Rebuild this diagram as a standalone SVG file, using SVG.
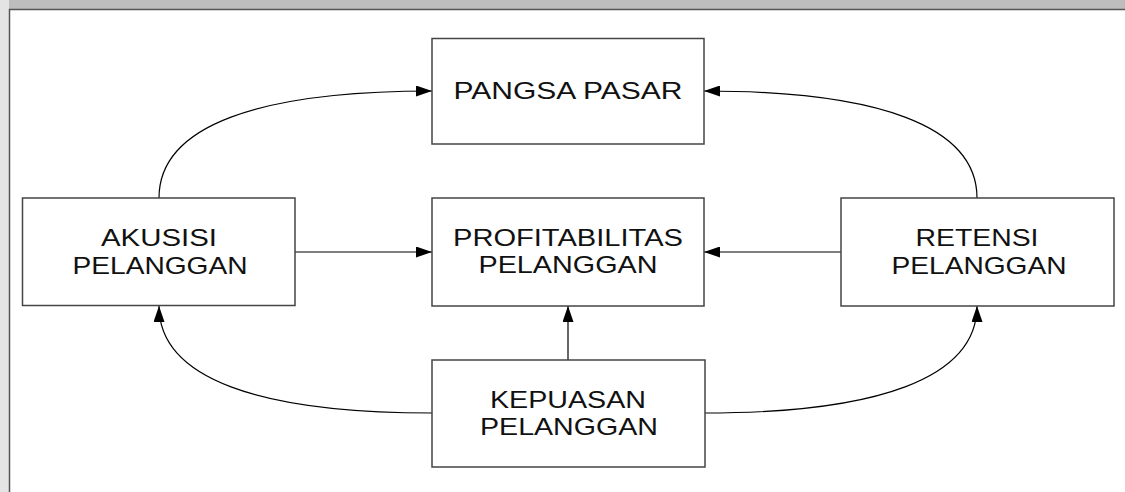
<svg xmlns="http://www.w3.org/2000/svg" width="1125" height="492" viewBox="0 0 1125 492">
  <style>
    .box { fill: #ffffff; stroke: #444444; stroke-width: 1.5; }
    .lbl { font-family: "Liberation Sans", Arial, sans-serif; font-size: 24px; fill: #111111; text-anchor: middle; }
    .conn { fill: none; stroke: #000000; stroke-width: 1.2; }
  </style>
  <defs>
    <marker id="arr" markerUnits="userSpaceOnUse" markerWidth="16" markerHeight="11" refX="16" refY="5.5" orient="auto">
      <path d="M0,0 L16,5.5 L0,11 Z" fill="#000000"/>
    </marker>
  </defs>
  <rect x="0" y="0" width="1125" height="492" fill="#ffffff"/>
  <rect x="0" y="0" width="1125" height="9" fill="#bdbdbd"/>
  <rect x="0" y="0" width="9" height="492" fill="#e4e4e4"/>
  <path d="M9.5,492 V9.5 H1125" fill="none" stroke="#555555" stroke-width="1.5"/>

  <g id="connectors">
    <path class="conn" d="M159,198 C159,125 260,91 432,91" marker-end="url(#arr)"/>
    <path class="conn" d="M977,198 C977,125 876,91 704,91" marker-end="url(#arr)"/>
    <path class="conn" d="M432,413 C260,413 159,379 159,306" marker-end="url(#arr)"/>
    <path class="conn" d="M705,413 C876,413 977,379 977,306" marker-end="url(#arr)"/>
    <path class="conn" d="M295,252 H432" marker-end="url(#arr)"/>
    <path class="conn" d="M841,252 H704" marker-end="url(#arr)"/>
    <path class="conn" d="M568,360 V306" marker-end="url(#arr)"/>
  </g>

  <g id="pangsa-pasar">
    <rect class="box" x="432" y="38.5" width="272" height="105.5"/>
    <text class="lbl" x="568" y="98.5" textLength="229" lengthAdjust="spacingAndGlyphs">PANGSA PASAR</text>
  </g>
  <g id="profitabilitas-pelanggan">
    <rect class="box" x="432" y="198" width="272" height="108"/>
    <text class="lbl" x="568" y="246" textLength="230" lengthAdjust="spacingAndGlyphs">PROFITABILITAS</text>
    <text class="lbl" x="568" y="273" textLength="179" lengthAdjust="spacingAndGlyphs">PELANGGAN</text>
  </g>
  <g id="akusisi-pelanggan">
    <rect class="box" x="22.5" y="198" width="272.5" height="107.5"/>
    <text class="lbl" x="159" y="246" textLength="116" lengthAdjust="spacingAndGlyphs">AKUSISI</text>
    <text class="lbl" x="160" y="274" textLength="175" lengthAdjust="spacingAndGlyphs">PELANGGAN</text>
  </g>
  <g id="retensi-pelanggan">
    <rect class="box" x="841" y="198" width="273" height="108"/>
    <text class="lbl" x="977" y="246" textLength="123" lengthAdjust="spacingAndGlyphs">RETENSI</text>
    <text class="lbl" x="979" y="274" textLength="175" lengthAdjust="spacingAndGlyphs">PELANGGAN</text>
  </g>
  <g id="kepuasan-pelanggan">
    <rect class="box" x="432" y="360" width="273" height="107"/>
    <text class="lbl" x="568" y="407.5" textLength="156" lengthAdjust="spacingAndGlyphs">KEPUASAN</text>
    <text class="lbl" x="569" y="434.5" textLength="178" lengthAdjust="spacingAndGlyphs">PELANGGAN</text>
  </g>
</svg>
